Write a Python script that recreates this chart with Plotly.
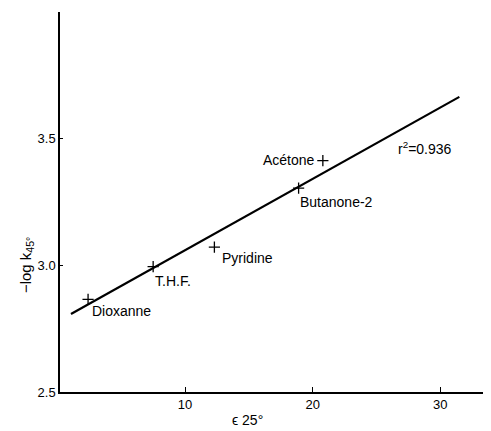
import plotly.graph_objects as go

# data
solvents = ["Dioxanne", "T.H.F.", "Pyridine", "Acétone", "Butanone-2"]
epsilon = [2.4, 7.5, 12.3, 20.8, 18.9]
neg_log_k = [2.866, 2.995, 3.072, 3.413, 3.305]
fit_x = [1.06, 31.5]
fit_y = [2.808, 3.665]
x_ticks = [10, 20, 30]
y_ticks = [2.5, 3.0, 3.5]
y_tick_text = ["2.5", "3.0", "3.5"]
r2_text = "r<sup>2</sup>=0.936"

FONT = "Liberation Sans, Arial, sans-serif"

fig = go.Figure()
fig.add_trace(go.Scatter(x=fit_x, y=fit_y, mode="lines",
                         line=dict(color="black", width=2.2), showlegend=False))
fig.add_trace(go.Scatter(x=epsilon, y=neg_log_k, mode="markers",
                         marker=dict(symbol="cross-thin", size=8,
                                     line=dict(color="black", width=1.3)),
                         showlegend=False))

# label placements (offsets from points, in pixels)
label_cfg = {
    "Dioxanne": dict(xanchor="left", yanchor="middle", xshift=2, yshift=-12),
    "T.H.F.": dict(xanchor="left", yanchor="middle", xshift=0, yshift=-14),
    "Pyridine": dict(xanchor="left", yanchor="middle", xshift=6, yshift=-11),
    "Acétone": dict(xanchor="right", yanchor="middle", xshift=-6, yshift=1),
    "Butanone-2": dict(xanchor="left", yanchor="middle", xshift=-1, yshift=-14),
}
for name, xv, yv in zip(solvents, epsilon, neg_log_k):
    fig.add_annotation(x=xv, y=yv, text=name, showarrow=False,
                       font=dict(family=FONT, size=14, color="black"),
                       **label_cfg[name])

fig.add_annotation(x=26.5, y=3.465, text=r2_text, showarrow=False,
                   xanchor="left", yanchor="middle",
                   font=dict(family=FONT, size=14, color="black"))

# axis titles
fig.add_annotation(xref="paper", yref="paper", x=-0.079, y=0.334,
                   text="−log k<sub>45°</sub>", textangle=-90, showarrow=False,
                   xanchor="center", yanchor="middle",
                   font=dict(family=FONT, size=15, color="black"))
fig.add_annotation(xref="paper", yref="paper", x=0.435, y=-0.074,
                   text="ϵ 25°", showarrow=False,
                   xanchor="center", yanchor="middle",
                   font=dict(family=FONT, size=14, color="black"))

# page body has an 8px margin; size the figure so the plot lands where the reference has it
fig.update_layout(
    width=483, height=423,
    margin=dict(l=52, r=1, t=4, b=39),
    paper_bgcolor="white", plot_bgcolor="white",
    font=dict(family=FONT, size=13, color="black"),
)
fig.update_xaxes(range=[0.2, 33.9], tickvals=x_ticks, ticktext=[str(t) for t in x_ticks],
                 ticks="inside", ticklen=5, tickcolor="black", tickwidth=1,
                 showline=True, linecolor="black", linewidth=1.5,
                 showgrid=False, zeroline=False,
                 tickfont=dict(family=FONT, size=13, color="black"))
fig.update_yaxes(range=[2.5, 4.0], tickvals=y_ticks, ticktext=y_tick_text,
                 ticks="inside", ticklen=3, tickcolor="black", tickwidth=1,
                 showline=True, linecolor="black", linewidth=1.5,
                 showgrid=False, zeroline=False,
                 tickfont=dict(family=FONT, size=13, color="black"))

fig.write_html("out.html")
